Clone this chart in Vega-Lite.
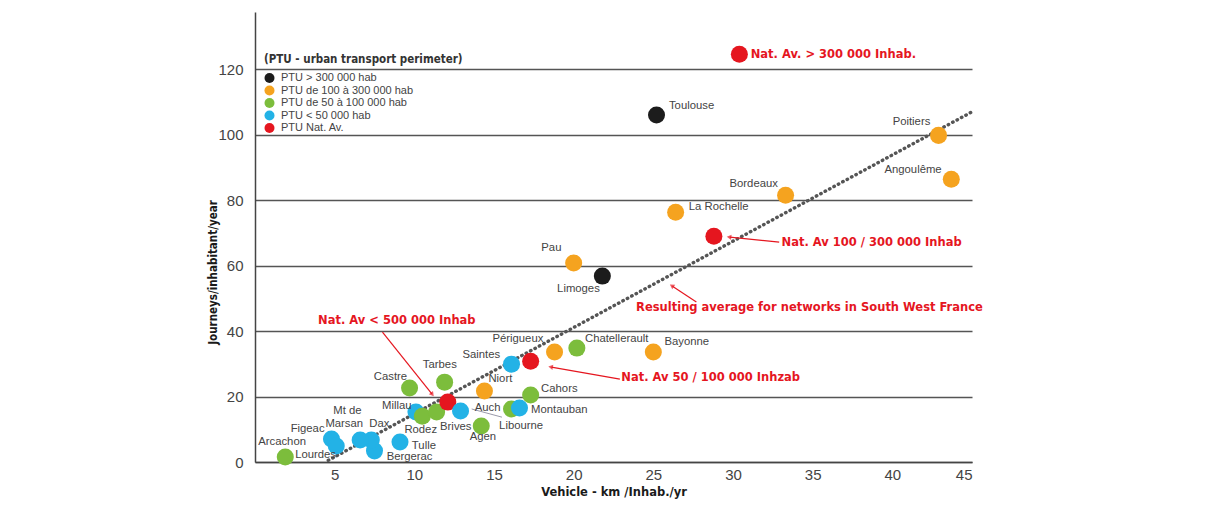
{
  "$schema": "https://vega.github.io/schema/vega-lite/v6.json",
  "width": 717,
  "height": 450,
  "autosize": {"type": "none"},
  "padding": {"left": 255, "top": 12, "right": 250, "bottom": 44},
  "background": "white",
  "config": {
    "view": {"stroke": null},
    "font": "Liberation Sans"
  },
  "datasets": {
    "points": [
      {"city": "Toulouse", "km": 25.2, "journeys": 106, "group": "PTU > 300 000 hab"},
      {"city": "Limoges", "km": 21.8, "journeys": 56.8, "group": "PTU > 300 000 hab"},
      {"city": "Poitiers", "km": 42.9, "journeys": 99.8, "group": "PTU de 100 à 300 000 hab"},
      {"city": "Angoulême", "km": 43.7, "journeys": 86.4, "group": "PTU de 100 à 300 000 hab"},
      {"city": "Bordeaux", "km": 33.3, "journeys": 81.5, "group": "PTU de 100 à 300 000 hab"},
      {"city": "La Rochelle", "km": 26.4, "journeys": 76.3, "group": "PTU de 100 à 300 000 hab"},
      {"city": "Pau", "km": 20.0, "journeys": 60.8, "group": "PTU de 100 à 300 000 hab"},
      {"city": "Périgueux", "km": 18.8, "journeys": 33.6, "group": "PTU de 100 à 300 000 hab"},
      {"city": "Bayonne", "km": 25.0, "journeys": 33.6, "group": "PTU de 100 à 300 000 hab"},
      {"city": "Niort", "km": 14.4, "journeys": 21.7, "group": "PTU de 100 à 300 000 hab"},
      {"city": "Chatellerault", "km": 20.2, "journeys": 34.8, "group": "PTU de 50 à 100 000 hab"},
      {"city": "Tarbes", "km": 11.9, "journeys": 24.4, "group": "PTU de 50 à 100 000 hab"},
      {"city": "Castre", "km": 9.7, "journeys": 22.6, "group": "PTU de 50 à 100 000 hab"},
      {"city": "Cahors", "km": 17.3, "journeys": 20.5, "group": "PTU de 50 à 100 000 hab"},
      {"city": "Libourne", "km": 16.1, "journeys": 16.2, "group": "PTU de 50 à 100 000 hab"},
      {"city": "Agen", "km": 14.2, "journeys": 11.0, "group": "PTU de 50 à 100 000 hab"},
      {"city": "Arcachon", "km": 1.9, "journeys": 1.5, "group": "PTU de 50 à 100 000 hab"},
      {"city": "Millau", "km": 10.1, "journeys": 15.3, "group": "PTU < 50 000 hab"},
      {"city": "Rodez", "km": 10.5, "journeys": 14.0, "group": "PTU de 50 à 100 000 hab"},
      {"city": "Rodez 2", "km": 11.4, "journeys": 15.3, "group": "PTU de 50 à 100 000 hab"},
      {"city": "Nat. Av < 50 000", "km": 12.1, "journeys": 18.3, "group": "PTU Nat. Av."},
      {"city": "Brives", "km": 12.9, "journeys": 15.6, "group": "PTU < 50 000 hab"},
      {"city": "Saintes", "km": 16.1, "journeys": 29.9, "group": "PTU < 50 000 hab"},
      {"city": "Montauban", "km": 16.6, "journeys": 16.5, "group": "PTU < 50 000 hab"},
      {"city": "Tulle", "km": 9.1, "journeys": 6.1, "group": "PTU < 50 000 hab"},
      {"city": "Bergerac", "km": 7.5, "journeys": 3.4, "group": "PTU < 50 000 hab"},
      {"city": "Dax", "km": 7.3, "journeys": 6.7, "group": "PTU < 50 000 hab"},
      {"city": "Mt de Marsan", "km": 6.6, "journeys": 6.7, "group": "PTU < 50 000 hab"},
      {"city": "Figeac", "km": 4.8, "journeys": 7.0, "group": "PTU < 50 000 hab"},
      {"city": "Lourdes", "km": 5.1, "journeys": 4.9, "group": "PTU < 50 000 hab"},
      {"city": "Nat. Av > 300 000", "km": 30.4, "journeys": 124.6, "group": "PTU Nat. Av."},
      {"city": "Nat. Av 100/300 000", "km": 28.8, "journeys": 69.0, "group": "PTU Nat. Av."},
      {"city": "Nat. Av 50/100 000", "km": 17.3, "journeys": 30.8, "group": "PTU Nat. Av."}
    ],
    "labels": [
      {"text": "Toulouse", "km": 27.4, "journeys": 108.7},
      {"text": "Poitiers", "km": 41.2, "journeys": 103.8},
      {"text": "Angoulême", "km": 41.3, "journeys": 89.2},
      {"text": "Bordeaux", "km": 31.3, "journeys": 84.9},
      {"text": "La  Rochelle", "km": 29.1, "journeys": 77.9},
      {"text": "Pau", "km": 18.6, "journeys": 65.3},
      {"text": "Limoges", "km": 20.3, "journeys": 52.8},
      {"text": "Chatellerault", "km": 22.7, "journeys": 37.6},
      {"text": "Bayonne", "km": 27.1, "journeys": 36.6},
      {"text": "Périgueux", "km": 16.5, "journeys": 37.6},
      {"text": "Saintes", "km": 14.2, "journeys": 32.7},
      {"text": "Tarbes", "km": 11.6, "journeys": 29.6},
      {"text": "Castre", "km": 8.5, "journeys": 26.0},
      {"text": "Niort", "km": 15.4, "journeys": 25.3},
      {"text": "Cahors", "km": 19.1, "journeys": 22.3},
      {"text": "Auch", "km": 14.6, "journeys": 16.5},
      {"text": "Montauban", "km": 19.1, "journeys": 15.9},
      {"text": "Libourne", "km": 16.7, "journeys": 10.9},
      {"text": "Agen", "km": 14.3, "journeys": 7.6},
      {"text": "Brives", "km": 12.6, "journeys": 10.7},
      {"text": "Rodez", "km": 10.4, "journeys": 9.8},
      {"text": "Millau", "km": 8.9, "journeys": 17.1},
      {"text": "Tulle", "km": 10.6, "journeys": 4.9},
      {"text": "Bergerac", "km": 9.7, "journeys": 1.5},
      {"text": "Dax", "km": 7.8, "journeys": 11.6},
      {"text": "Mt de", "km": 5.8, "journeys": 15.6},
      {"text": "Marsan", "km": 5.6, "journeys": 11.6},
      {"text": "Figeac", "km": 3.3, "journeys": 10.0},
      {"text": "Arcachon", "km": 1.7, "journeys": 6.1},
      {"text": "Lourdes", "km": 3.8, "journeys": 2.1}
    ],
    "notes": [
      {"text": "Nat. Av. > 300 000 Inhab.", "km": 36.3, "journeys": 124.3},
      {"text": "Nat. Av 100 / 300 000 Inhab", "km": 38.7, "journeys": 66.9},
      {"text": "Resulting average for networks in South West France", "km": 34.8, "journeys": 47.0},
      {"text": "Nat. Av < 500 000 Inhab", "km": 8.9, "journeys": 43.0},
      {"text": "Nat. Av 50 / 100 000 Inhzab", "km": 28.6, "journeys": 25.6}
    ],
    "arrows": [
      {"km": 32.9, "journeys": 67.2, "km2": 29.8, "journeys2": 68.7, "angle": 276},
      {"km": 27.7, "journeys": 48.9, "km2": 26.2, "journeys2": 53.7, "angle": 303},
      {"km": 8.0, "journeys": 39.7, "km2": 11.1, "journeys2": 20.8, "angle": 142},
      {"km": 22.9, "journeys": 25.3, "km2": 18.6, "journeys2": 29.0, "angle": 280}
    ],
    "leader": [
      {"km": 13.6, "journeys": 16.2, "km2": 15.5, "journeys2": 13.7}
    ],
    "trend": [
      {"km": 4.6, "journeys": 0.5},
      {"km": 45, "journeys": 107}
    ]
  },
  "layer": [
    {
      "data": {"name": "trend"},
      "mark": {"type": "line", "stroke": "#555555", "strokeWidth": 3.4, "strokeDash": [0.5, 4.5], "strokeCap": "round"},
      "encoding": {
        "x": {"field": "km", "type": "quantitative", "scale": {"domain": [0, 45], "nice": false, "zero": false},
          "axis": {"values": [5, 10, 15, 20, 25, 30, 35, 40, 45], "grid": false, "ticks": false, "domainColor": "#444444", "domainWidth": 1.5,
            "labelFont": "Liberation Sans", "labelFontSize": 15, "labelColor": "#444444", "labelPadding": 5,
            "title": "Vehicle - km /Inhab./yr", "titleFont": "DejaVu Sans", "titleFontSize": 11.5, "titleFontWeight": "bold", "titleColor": "#1a1a1a", "titlePadding": 4}},
        "y": {"field": "journeys", "type": "quantitative", "scale": {"domain": [0, 137.5], "nice": false},
          "axis": {"values": [0, 20, 40, 60, 80, 100, 120], "grid": true, "gridColor": "#555555", "gridWidth": 1.5, "ticks": false,
            "domainColor": "#444444", "domainWidth": 1.5,
            "labelFont": "Liberation Sans", "labelFontSize": 15, "labelColor": "#444444", "labelPadding": 12,
            "title": "Journeys/inhabitant/year", "titleFont": "DejaVu Sans Condensed", "titleFontSize": 11.5, "titleFontWeight": "bold", "titleColor": "#1a1a1a",
            "titleX": -42, "titleY": 260, "titleAngle": -90, "titleAlign": "center", "titleBaseline": "middle"}}
      }
    },
    {
      "data": {"name": "leader"},
      "mark": {"type": "rule", "stroke": "#9a9aaa", "strokeWidth": 1},
      "encoding": {
        "x": {"field": "km", "type": "quantitative"},
        "y": {"field": "journeys", "type": "quantitative"},
        "x2": {"field": "km2"},
        "y2": {"field": "journeys2"}
      }
    },
    {
      "data": {"name": "points"},
      "mark": {"type": "circle", "size": 290, "opacity": 1},
      "encoding": {
        "x": {"field": "km", "type": "quantitative"},
        "y": {"field": "journeys", "type": "quantitative"},
        "color": {"field": "group", "type": "nominal",
          "scale": {"domain": ["PTU > 300 000 hab", "PTU de 100 à 300 000 hab", "PTU de 50 à 100 000 hab", "PTU < 50 000 hab", "PTU Nat. Av."],
            "range": ["#1c1c1c", "#f5a31f", "#7cbd3c", "#23b2e6", "#e5161f"]},
          "legend": {"orient": "none", "legendX": 9, "legendY": 42, "title": "(PTU - urban transport perimeter)",
            "titleFont": "DejaVu Sans Condensed", "titleFontSize": 11.5, "titleFontWeight": "bold", "titleColor": "#333333", "titlePadding": 7, "titleLimit": 400,
            "symbolType": "circle", "symbolSize": 100, "symbolStrokeWidth": 0, "labelFont": "Liberation Sans", "labelFontSize": 11, "labelColor": "#444444",
            "rowPadding": 0.5, "labelOffset": 6,
            "encode": {"labels": {"update": {
              "fontWeight": {"signal": "datum.label === 'PTU Nat. Av.' ? 'bold' : 'normal'"},
              "fill": {"signal": "datum.label === 'PTU Nat. Av.' ? '#222222' : '#444444'"},
              "font": {"signal": "datum.label === 'PTU Nat. Av.' ? 'DejaVu Sans Condensed' : 'Liberation Sans'"}
            }}}}}
      }
    },
    {
      "data": {"name": "labels"},
      "mark": {"type": "text", "font": "Liberation Sans", "fontSize": 11.3, "fill": "#444444", "align": "center", "baseline": "middle"},
      "encoding": {
        "x": {"field": "km", "type": "quantitative"},
        "y": {"field": "journeys", "type": "quantitative"},
        "text": {"field": "text"}
      }
    },
    {
      "data": {"name": "arrows"},
      "mark": {"type": "rule", "stroke": "#e5161f", "strokeWidth": 1.2},
      "encoding": {
        "x": {"field": "km", "type": "quantitative"},
        "y": {"field": "journeys", "type": "quantitative"},
        "x2": {"field": "km2"},
        "y2": {"field": "journeys2"}
      }
    },
    {
      "data": {"name": "arrows"},
      "mark": {"type": "point", "shape": "triangle", "filled": true, "fill": "#e5161f", "size": 28, "strokeWidth": 0},
      "encoding": {
        "x": {"field": "km2", "type": "quantitative"},
        "y": {"field": "journeys2", "type": "quantitative"},
        "angle": {"field": "angle", "type": "quantitative", "scale": null}
      }
    },
    {
      "data": {"name": "notes"},
      "mark": {"type": "text", "font": "DejaVu Sans", "fontSize": 11.5, "fontWeight": "bold", "fill": "#e5161f", "align": "center", "baseline": "middle"},
      "encoding": {
        "x": {"field": "km", "type": "quantitative"},
        "y": {"field": "journeys", "type": "quantitative"},
        "text": {"field": "text"}
      }
    }
  ]
}
